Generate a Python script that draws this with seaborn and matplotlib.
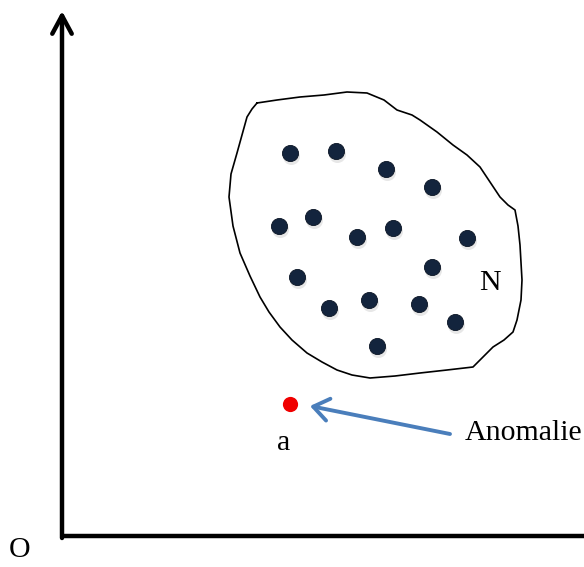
import matplotlib.pyplot as plt
import seaborn as sns
import pandas as pd

# normal points (inside cluster N)
normal_x = [228, 274, 324, 370, 217, 251, 295, 331, 405, 370, 235, 267, 307, 357, 393, 315]
normal_y = [383, 385, 367, 349, 310, 319, 299, 308, 298, 269, 259, 228, 236, 232, 214, 190]

# anomaly point
anomaly_x = [228]
anomaly_y = [132]

# hand drawn outline of the cluster
blob_x = [195, 215, 238, 262, 285, 305, 322, 335, 350, 358, 375, 391, 405, 418, 428, 438,
          446, 453, 456, 458, 460, 459, 455, 451, 442, 431, 421, 411, 385, 358, 333, 308,
          290, 275, 260, 245, 230, 218, 207, 198, 188, 178, 171, 167, 169, 175, 180, 185, 190, 195]
blob_y = [433, 436, 439, 441, 444, 443, 436, 426, 421, 416, 404, 391, 381, 369, 354, 339,
          331, 326, 310, 291, 256, 236, 216, 204, 196, 189, 179, 169, 166, 163, 160, 158,
          161, 166, 174, 183, 196, 209, 224, 239, 260, 283, 310, 339, 362, 383, 401, 419, 427, 433]

sns.set_style('white')
plt.rcParams['font.family'] = ['Liberation Serif', 'DejaVu Serif']
plt.rcParams['text.color'] = 'black'

fig = plt.figure(figsize=(5.84, 5.67), dpi=100)
ax = fig.add_axes([0, 0, 1, 1])
ax.set_xlim(-62, 522)
ax.set_ylim(-31, 536)
ax.axis('off')

# axes with arrow
ax.annotate('', xy=(0, 525), xytext=(0, -2),
            arrowprops=dict(arrowstyle='->,head_length=0.65,head_width=0.35',
                            lw=3.2, color='black', mutation_scale=20, shrinkA=0, shrinkB=0))
ax.plot([-1.6, 530], [0, 0], color='black', lw=3.2, solid_capstyle='butt')

# cluster outline
ax.plot(blob_x, blob_y, color='black', lw=1.2, solid_joinstyle='round')

df = pd.DataFrame({'x': normal_x, 'y': normal_y})
# soft shadow
ax.scatter([x + 1 for x in normal_x], [y - 3 for y in normal_y], s=150, color='#bbbbbb',
           alpha=0.35, linewidths=0, zorder=2)
sns.scatterplot(data=df, x='x', y='y', s=135, color='#13243d', edgecolor='#0a1424',
                linewidth=0.6, ax=ax, zorder=3)
sns.scatterplot(x=anomaly_x, y=anomaly_y, s=120, color='#f00000', linewidth=0, ax=ax, zorder=3)

# arrow to anomaly
ax.annotate('', xy=(248, 130), xytext=(388, 102),
            arrowprops=dict(arrowstyle='->,head_length=0.55,head_width=0.4',
                            lw=2.8, color='#4a7ebb', mutation_scale=20, shrinkA=0, shrinkB=0))

ax.text(403, 103, 'Anomalie', fontsize=21.5, va='center', ha='left', color='black')
ax.text(222, 93, 'a', fontsize=21.5, va='center', ha='center', color='black')
ax.text(428, 253, 'N', fontsize=21.5, va='center', ha='center', color='black')
ax.text(-42, -14, 'O', fontsize=21.5, va='center', ha='center', color='black')

ax.set_xlabel('')
ax.set_ylabel('')
fig.savefig('out.png', dpi=100)
plt.close()
